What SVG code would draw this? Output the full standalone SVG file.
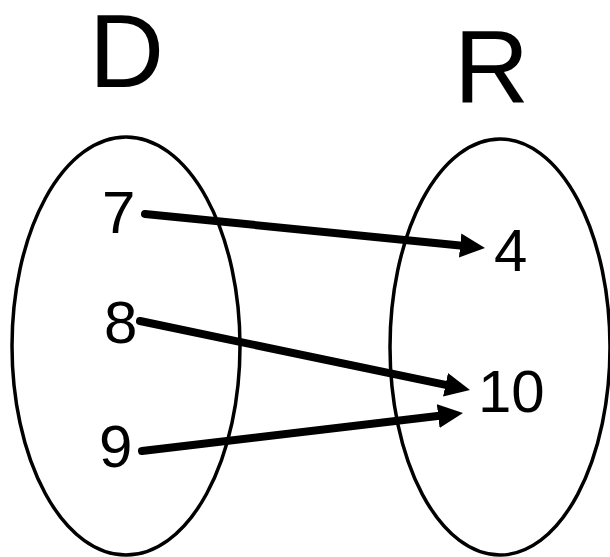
<svg xmlns="http://www.w3.org/2000/svg" width="610" height="557" viewBox="0 0 610 557">
<style>
.set{fill:none;stroke:#000;stroke-width:3.5}
.big{font-family:"Liberation Sans",Arial,sans-serif;font-size:104px;fill:#000}
.num{font-family:"Liberation Sans",Arial,sans-serif;font-size:60px;fill:#000}
.arr{fill:none;stroke:#000;stroke-width:8;stroke-linecap:round;marker-end:url(#head)}
</style>
<defs>
<marker id="head" markerUnits="userSpaceOnUse" markerWidth="26" markerHeight="26" refX="10" refY="12" orient="auto" viewBox="0 0 26 24">
<path d="M0,0 L25,12 L0,24 z" fill="#000"/>
</marker>
</defs>
<g id="D">
<ellipse class="set" cx="126" cy="346" rx="114" ry="209"/>
<text class="big" x="89" y="87">D</text>
</g>
<g id="R">
<ellipse class="set" cx="500" cy="347" rx="110" ry="208"/>
<text class="big" x="454" y="103">R</text>
</g>
<g id="n7"><text class="num" x="102" y="233">7</text></g>
<g id="n8"><text class="num" x="104" y="343">8</text></g>
<g id="n9"><text class="num" x="99" y="467">9</text></g>
<g id="n4"><text class="num" x="494" y="271">4</text></g>
<g id="n10"><text class="num" x="478" y="412">10</text></g>
<g id="connectors">
<path class="arr" d="M145,214 L470.1,246.5"/>
<path class="arr" d="M140,321 L455.3,386.9"/>
<path class="arr" d="M142,451 L448.1,414.8"/>
</g>
</svg>
